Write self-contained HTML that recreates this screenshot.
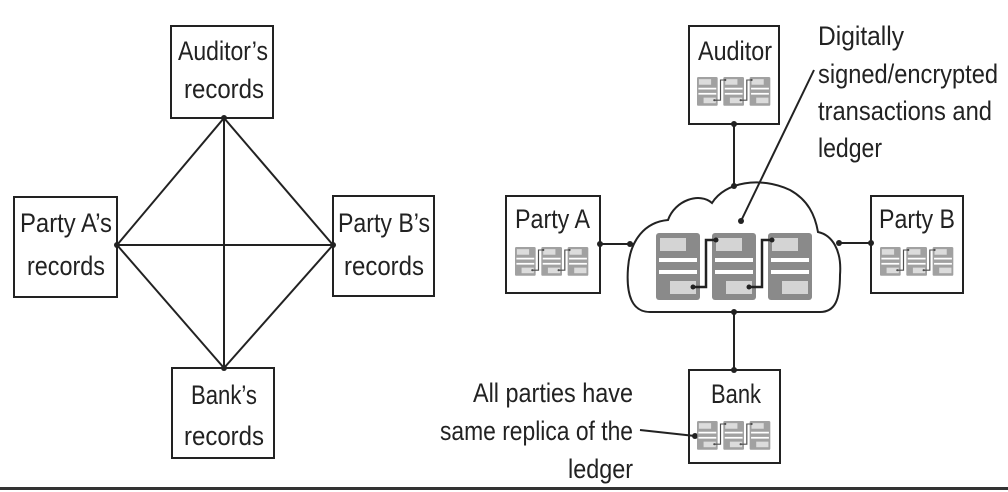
<!DOCTYPE html>
<html><head><meta charset="utf-8"><style>
html,body{margin:0;padding:0;background:#fff;width:1008px;height:492px;overflow:hidden}
text{font-family:"Liberation Sans Narrow","Liberation Sans",sans-serif;font-size:27px;fill:#222}
</style></head><body>
<svg width="1008" height="492" viewBox="0 0 1008 492" xmlns="http://www.w3.org/2000/svg">
<defs>
<g id="doc">
<rect x="0" y="0" width="44" height="67" rx="3" fill="#8a8a8a"/>
<rect x="4" y="5" width="26" height="13" fill="#d4d4d4"/>
<rect x="3" y="25" width="38" height="4" fill="#fff"/>
<rect x="3" y="37" width="38" height="4" fill="#fff"/>
<rect x="14" y="48" width="26" height="13" fill="#d4d4d4"/>
</g>
<g id="set">
<use href="#doc" x="0" y="0"/>
<use href="#doc" x="56" y="0"/>
<use href="#doc" x="112" y="0"/>
<path d="M37 54 H50 V7 H60 M93 54 H106 V7 H116" fill="none" stroke="#222" stroke-width="2.5"/>
<g fill="#222"><circle cx="37" cy="54" r="2.5"/><circle cx="60" cy="7" r="2.5"/><circle cx="93" cy="54" r="2.5"/><circle cx="116" cy="7" r="2.5"/></g>
</g>
<g id="mini" opacity="0.8"><use href="#set" transform="scale(0.47,0.43)"/></g>
</defs>
<g stroke="#222" stroke-width="2" fill="none">
<line x1="224" y1="118" x2="117" y2="245"/>
<line x1="224" y1="118" x2="333" y2="245"/>
<line x1="224" y1="118" x2="224" y2="368"/>
<line x1="117" y1="245" x2="333" y2="245"/>
<line x1="117" y1="245" x2="224" y2="368"/>
<line x1="333" y1="245" x2="224" y2="368"/>
<rect x="171" y="26" width="102" height="92" fill="#fff"/>
<rect x="14" y="197" width="103" height="100" fill="#fff"/>
<rect x="333" y="196" width="101" height="100" fill="#fff"/>
<rect x="172" y="368" width="102" height="90" fill="#fff"/>
<line x1="734" y1="124" x2="734" y2="186"/>
<line x1="600" y1="244" x2="634" y2="244"/>
<line x1="838" y1="243" x2="871" y2="243"/>
<line x1="734" y1="312" x2="734" y2="370"/>
<line x1="640" y1="430" x2="695" y2="436"/>
<rect x="689" y="26" width="90" height="98"/>
<rect x="506" y="196" width="94" height="97"/>
<rect x="871" y="196" width="92" height="97"/>
<rect x="689" y="370" width="91" height="93"/>
<path d="M650 312 C632 312 626 295 628 268 C630 240 645 222 668 220 C675 200 700 192 712 203 C725 182 760 176 790 190 C808 200 815 215 818 232 C832 235 842 250 840 275 C840 300 835 312 820 312 Z" fill="#fff"/>
<line x1="814" y1="70" x2="741" y2="221"/>
</g>
<g fill="#222">
<circle cx="224" cy="118" r="3"/><circle cx="117" cy="245" r="3"/><circle cx="333" cy="245" r="3"/><circle cx="224" cy="368" r="3"/>
<circle cx="734" cy="124" r="3"/><circle cx="734" cy="186" r="3"/><circle cx="600" cy="244" r="3"/><circle cx="630" cy="244" r="3"/>
<circle cx="839" cy="243" r="3"/><circle cx="871" cy="243" r="3"/><circle cx="734" cy="312" r="3"/><circle cx="734" cy="370" r="3"/>
<circle cx="741" cy="221" r="3"/><circle cx="695" cy="436" r="3"/>
</g>
<use href="#set" x="656" y="233"/>
<use href="#mini" transform="translate(697,77)"/>
<use href="#mini" transform="translate(515,247)"/>
<use href="#mini" transform="translate(880,247)"/>
<use href="#mini" transform="translate(697,421)"/>
<rect x="0" y="487" width="1008" height="3" fill="#333"/>
<text x="178" y="60" textLength="90" lengthAdjust="spacingAndGlyphs">Auditor’s</text>
<text x="184" y="98" textLength="80" lengthAdjust="spacingAndGlyphs">records</text>
<text x="20" y="232" textLength="92" lengthAdjust="spacingAndGlyphs">Party A’s</text>
<text x="27" y="275" textLength="78" lengthAdjust="spacingAndGlyphs">records</text>
<text x="338" y="232" textLength="92" lengthAdjust="spacingAndGlyphs">Party B’s</text>
<text x="344" y="275" textLength="80" lengthAdjust="spacingAndGlyphs">records</text>
<text x="191" y="404" textLength="66" lengthAdjust="spacingAndGlyphs">Bank’s</text>
<text x="184" y="445" textLength="80" lengthAdjust="spacingAndGlyphs">records</text>
<text x="698" y="60" textLength="74" lengthAdjust="spacingAndGlyphs">Auditor</text>
<text x="515" y="228" textLength="75" lengthAdjust="spacingAndGlyphs">Party A</text>
<text x="879" y="228" textLength="76" lengthAdjust="spacingAndGlyphs">Party B</text>
<text x="711" y="403" textLength="50" lengthAdjust="spacingAndGlyphs">Bank</text>
<text x="818" y="45" textLength="86" lengthAdjust="spacingAndGlyphs">Digitally</text>
<text x="818" y="83" textLength="180" lengthAdjust="spacingAndGlyphs">signed/encrypted</text>
<text x="818" y="120" textLength="174" lengthAdjust="spacingAndGlyphs">transactions and</text>
<text x="818" y="157" textLength="64" lengthAdjust="spacingAndGlyphs">ledger</text>
<text x="473" y="402" textLength="160" lengthAdjust="spacingAndGlyphs">All parties have</text>
<text x="440" y="440" textLength="193" lengthAdjust="spacingAndGlyphs">same replica of the</text>
<text x="568" y="478" textLength="65" lengthAdjust="spacingAndGlyphs">ledger</text>
</svg>
</body></html>
